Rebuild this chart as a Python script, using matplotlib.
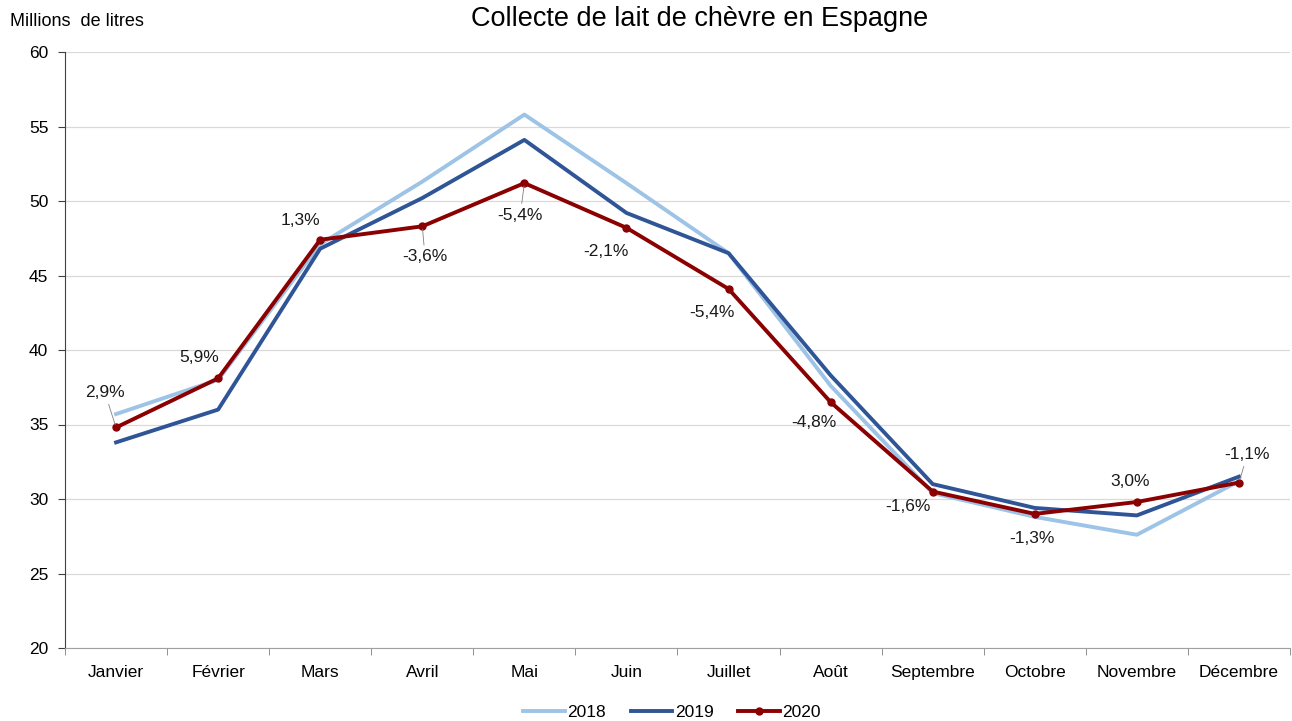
import numpy as np
import matplotlib.pyplot as plt

plt.rcParams['font.family'] = ['Liberation Sans', 'DejaVu Sans']

months = ['Janvier', 'Février', 'Mars', 'Avril', 'Mai', 'Juin', 'Juillet',
          'Août', 'Septembre', 'Octobre', 'Novembre', 'Décembre']
v2018 = [35.7, 38.0, 47.1, 51.3, 55.8, 51.2, 46.5, 37.6, 30.4, 28.8, 27.6, 31.2]
v2019 = [33.8, 36.0, 46.8, 50.2, 54.1, 49.2, 46.5, 38.3, 31.0, 29.4, 28.9, 31.5]
v2020 = [34.8, 38.1, 47.4, 48.3, 51.2, 48.2, 44.1, 36.5, 30.5, 29.0, 29.8, 31.1]
pct_labels = ['2,9%', '5,9%', '1,3%', '-3,6%', '-5,4%', '-2,1%', '-5,4%',
              '-4,8%', '-1,6%', '-1,3%', '3,0%', '-1,1%']

# label offsets in points (dx, dy) and whether a leader line is drawn
offsets = [(-8, 25), (-14, 15), (-14, 14), (2, -22), (-3, -23), (-15, -17),
           (-12, -17), (-12, -15), (-18, -11), (-2, -18), (-5, 15), (6, 20)]
leader = [True, False, False, True, True, False, False, False, False, False, False, True]

fig = plt.figure(figsize=(12.92, 7.21), dpi=100)
ax = fig.add_axes([65 / 1292, 1 - 648 / 721, (1290 - 65) / 1292, (648 - 52) / 721])

x = np.arange(len(months))
ax.plot(x, v2018, color='#9DC3E6', lw=2.8, label='2018', zorder=3)
ax.plot(x, v2019, color='#2F5597', lw=2.8, label='2019', zorder=4)
ax.plot(x, v2020, color='#8B0000', lw=2.8, marker='o', ms=5, label='2020', zorder=5)

for i, (lab, (dx, dy), ld) in enumerate(zip(pct_labels, offsets, leader)):
    ap = dict(arrowstyle='-', color='#808080', lw=0.6, shrinkA=1, shrinkB=2) if ld else None
    ax.annotate(lab, xy=(x[i], v2020[i]), xytext=(dx, dy), textcoords='offset points',
                ha='center', va='center', fontsize=12.5, color='#1a1a1a',
                arrowprops=ap, zorder=6)

ax.set_xlim(-0.5, 11.5 - 9 / 102.9)
ax.set_ylim(20, 60)
ax.set_yticks(range(20, 61, 5))
ax.set_xticks(x)
ax.set_xticklabels(months)
ax.set_xticks(np.arange(-0.5, 11.6, 1), minor=True)
ax.tick_params(axis='x', which='major', length=0, labelsize=12.5, pad=12)
ax.tick_params(axis='x', which='minor', length=5, color='#808080', direction='out')
ax.tick_params(axis='y', length=5, color='#404040', labelsize=12.5, pad=7)
ax.grid(axis='y', color='#D9D9D9', lw=0.9)
ax.set_axisbelow(True)
for s in ['top', 'right']:
    ax.spines[s].set_visible(False)
ax.spines['left'].set_color('#404040')
ax.spines['bottom'].set_color('#A0A0A0')

fig.text(10 / 1292, 1 - 22 / 721, 'Millions  de litres', fontsize=13, va='center', ha='left')
fig.text(700 / 1292, 1 - 19 / 721, 'Collecte de lait de chèvre en Espagne', fontsize=19.5,
         va='center', ha='center')

fig.legend(loc='center', bbox_to_anchor=(672 / 1292, 1 - 712 / 721), ncol=3, frameon=False,
           fontsize=12.5, handlelength=2.4, handletextpad=0.15, columnspacing=1.4)

fig.savefig('out.png', dpi=100)
